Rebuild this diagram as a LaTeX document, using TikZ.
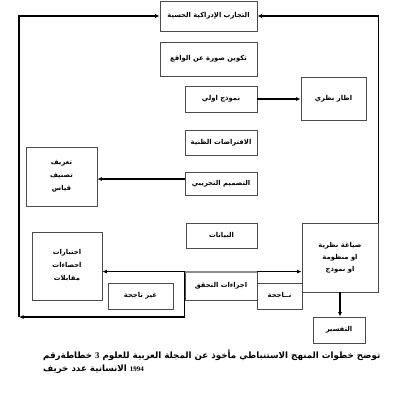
\documentclass[tikz,border=0pt]{standalone}
\usepackage{fontspec}
\TeXXeTstate=1
\newfontfamily\arabicfont[Script=Arabic]{DejaVu Sans}
\newfontfamily\numfont{Liberation Serif}
\usetikzlibrary{arrows.meta}
\begin{document}
\begin{tikzpicture}[x=1pt,y=-1pt,
  box/.style={draw=black!70, line width=0.8pt, fill=white, inner sep=1pt,
    font=\arabicfont\fontsize{6.8}{10}\selectfont\bfseries, align=center},
  arr/.style={-{Latex[length=4.5pt,width=4pt]}, line width=1.1pt, black},
  captext/.style={font=\arabicfont\fontsize{8.7}{11}\selectfont\bfseries, inner sep=0pt, anchor=west}]
\useasboundingbox (0,0) rectangle (400,400);
% boxes
\node[box, minimum width=97pt, minimum height=30pt] (top) at (208.5,16) {\beginR التجارب الإدراكية الحسية\endR};
\node[box, minimum width=97pt, minimum height=34pt] (surat) at (208.5,59) {\beginR تكوين صورة عن الواقع\endR};
\node[box, minimum width=72pt, minimum height=26pt] (namu) at (221,99) {\beginR نموذج اولي\endR};
\node[box, minimum width=65pt, minimum height=43pt] (itar) at (333.5,98.5) {\beginR اطار نظري\endR};
\node[box, minimum width=72pt, minimum height=25pt] (ifti) at (221,142.5) {\beginR الافتراضات الظنية\endR};
\node[box, minimum width=72pt, minimum height=23pt] (tasm) at (221,183.5) {\beginR التصميم التجريبي\endR};
\node[box, minimum width=71pt, minimum height=59pt] (tarif) at (61.5,176.5) {\beginR تعريف\endR\\[3pt] \beginR تصنيف\endR\\[3pt] \beginR قياس\endR};
\node[box, minimum width=71pt, minimum height=25pt] (bay) at (221.5,235.5) {\beginR البيانات\endR};
\node[box, minimum width=70pt, minimum height=68pt] (ikh) at (67,266) {\beginR اختبارات\endR\\[3pt] \beginR احصاءات\endR\\[3pt] \beginR مقابلات\endR};
\node[box, minimum width=65pt, minimum height=26pt] (ghayr) at (140.5,296) {\beginR غير ناجحة\endR};
\node[box, minimum width=72pt, minimum height=28pt] (ijr) at (221,286) {\beginR اجراءات التحقق\endR};
\node[box, minimum width=45pt, minimum height=26pt] (naj) at (279.5,296) {\beginR نــاجحة\endR};
\node[box, minimum width=76pt, minimum height=69pt] (siy) at (340,257.5) {\beginR صياغة نظرية\endR\\[2pt] \beginR او منظومة\endR\\[2pt] \beginR او نموذج\endR};
\node[box, minimum width=52pt, minimum height=26pt] (tafs) at (339,330) {\beginR التفسير\endR};
% thick grey top edge of the verification box
\draw[black!45, line width=1.8pt] (ijr.north west) -- (ijr.north east);
% coordinates
\coordinate (bl) at (19,317);
\coordinate (y179) at (0,179);
% connectors
\draw[arr] (ijr.north west) -- (ijr.north west -| ikh.east);
\draw[arr] (ijr.north west) |- (bl);
\draw[arr] (bl) |- (top.west);
\draw[arr] (siy.north east) |- (top.east);
\draw[arr] (ijr.north east) -- (ijr.north east -| siy.west);
\draw[arr] (siy.south) -- (siy.south |- tafs.north);
\draw[arr] (namu.east) -- (namu.east -| itar.west);
\draw[arr] (tasm.west |- y179) -- (tarif.east |- y179);
% caption, set as a left-to-right line as in the reference
\node[captext] (cap1) at (43,355) {\beginR خطاطةرقم\endR{} {\numfont\bfseries 3} \beginR توضح خطوات المنهج الاستنباطي مأخوذ عن المجلة العربية للعلوم\endR};
\node[captext] (cap2) at (43,369.5) {\beginR الانسانية عدد خريف\endR{} {\numfont\bfseries\fontsize{7}{9}\selectfont 1994}};
\end{tikzpicture}
\end{document}
